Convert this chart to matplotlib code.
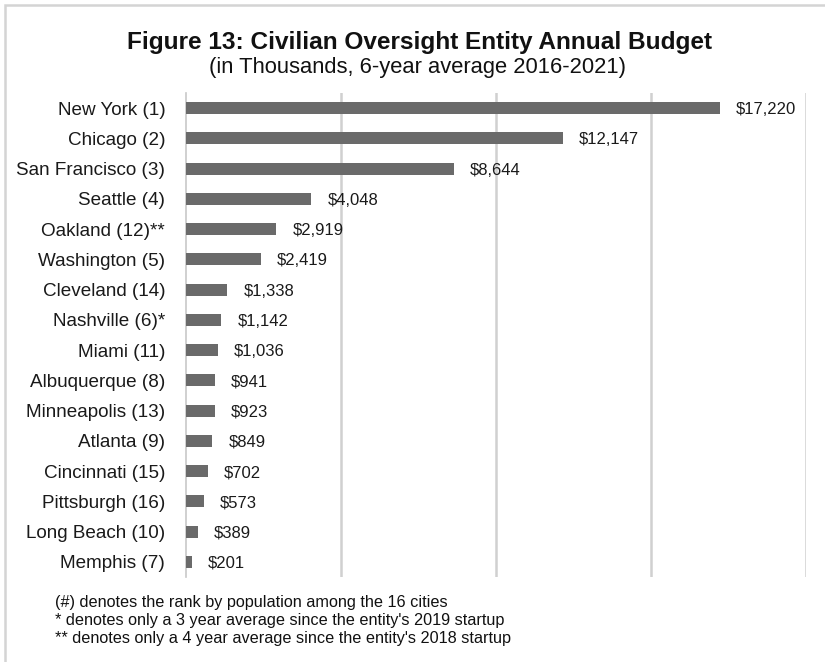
import matplotlib.pyplot as plt
from matplotlib.patches import Rectangle

plt.rcParams['font.family'] = ['Liberation Sans', 'DejaVu Sans']

cities = ["New York (1)", "Chicago (2)", "San Francisco (3)", "Seattle (4)",
          "Oakland (12)**", "Washington (5)", "Cleveland (14)", "Nashville (6)*",
          "Miami (11)", "Albuquerque (8)", "Minneapolis (13)", "Atlanta (9)",
          "Cincinnati (15)", "Pittsburgh (16)", "Long Beach (10)", "Memphis (7)"]
budget = [17220, 12147, 8644, 4048, 2919, 2419, 1338, 1142,
          1036, 941, 923, 849, 702, 573, 389, 201]
notes = ["(#) denotes the rank by population among the 16 cities",
         "* denotes only a 3 year average since the entity's 2019 startup",
         "** denotes only a 4 year average since the entity's 2018 startup"]

fig = plt.figure(figsize=(8.25, 6.62), dpi=100)
ax = fig.add_axes([186/825, 1-577/662, (806-186)/825, (577-93)/662])

y = list(range(len(cities)))
ax.barh(y, budget, height=0.4, color='#6a6a6a', zorder=3)
for yi, v in zip(y, budget):
    ax.annotate(f"${v:,}", (v, yi), xytext=(11.5, 0), textcoords='offset points',
                va='center_baseline', ha='left', fontsize=12, color='#1a1a1a')

ax.set_ylim(len(cities)-0.5, -0.5)
ax.set_xlim(0, 20000)
ax.set_yticks(y)
ax.set_yticklabels(cities, fontsize=13.6, color='#1a1a1a', va='center_baseline')
ax.set_xticks([5000, 10000, 15000, 20000])
ax.tick_params(axis='x', length=0, labelbottom=False)
ax.tick_params(axis='y', length=0, pad=15)
ax.grid(axis='x', color='#d0d0d0', lw=1.8, zorder=0)
for s in ['top', 'right', 'bottom']:
    ax.spines[s].set_visible(False)
ax.spines['left'].set_color('#c8c8c8')
ax.spines['left'].set_linewidth(1.2)

fig.text(419.5/825, 1-42/662, "Figure 13: Civilian Oversight Entity Annual Budget",
         ha='center', va='center', fontsize=17.6, fontweight='bold', color='#111111')
fig.text(417.5/825, 1-68/662, "(in Thousands, 6-year average 2016-2021)",
         ha='center', va='center', fontsize=15.8, color='#111111')
for i, line in enumerate(notes):
    fig.text(55/825, 1-(603+18*i)/662, line, ha='left', va='center',
             fontsize=11.7, color='#111111')

# light frame around the figure
fig.patches.append(Rectangle((5/825, -0.1), 1.2, 1-5/662+0.1, transform=fig.transFigure,
                             fill=False, ec='#d4d4d4', lw=1.8))

fig.savefig('out.png', dpi=100)
